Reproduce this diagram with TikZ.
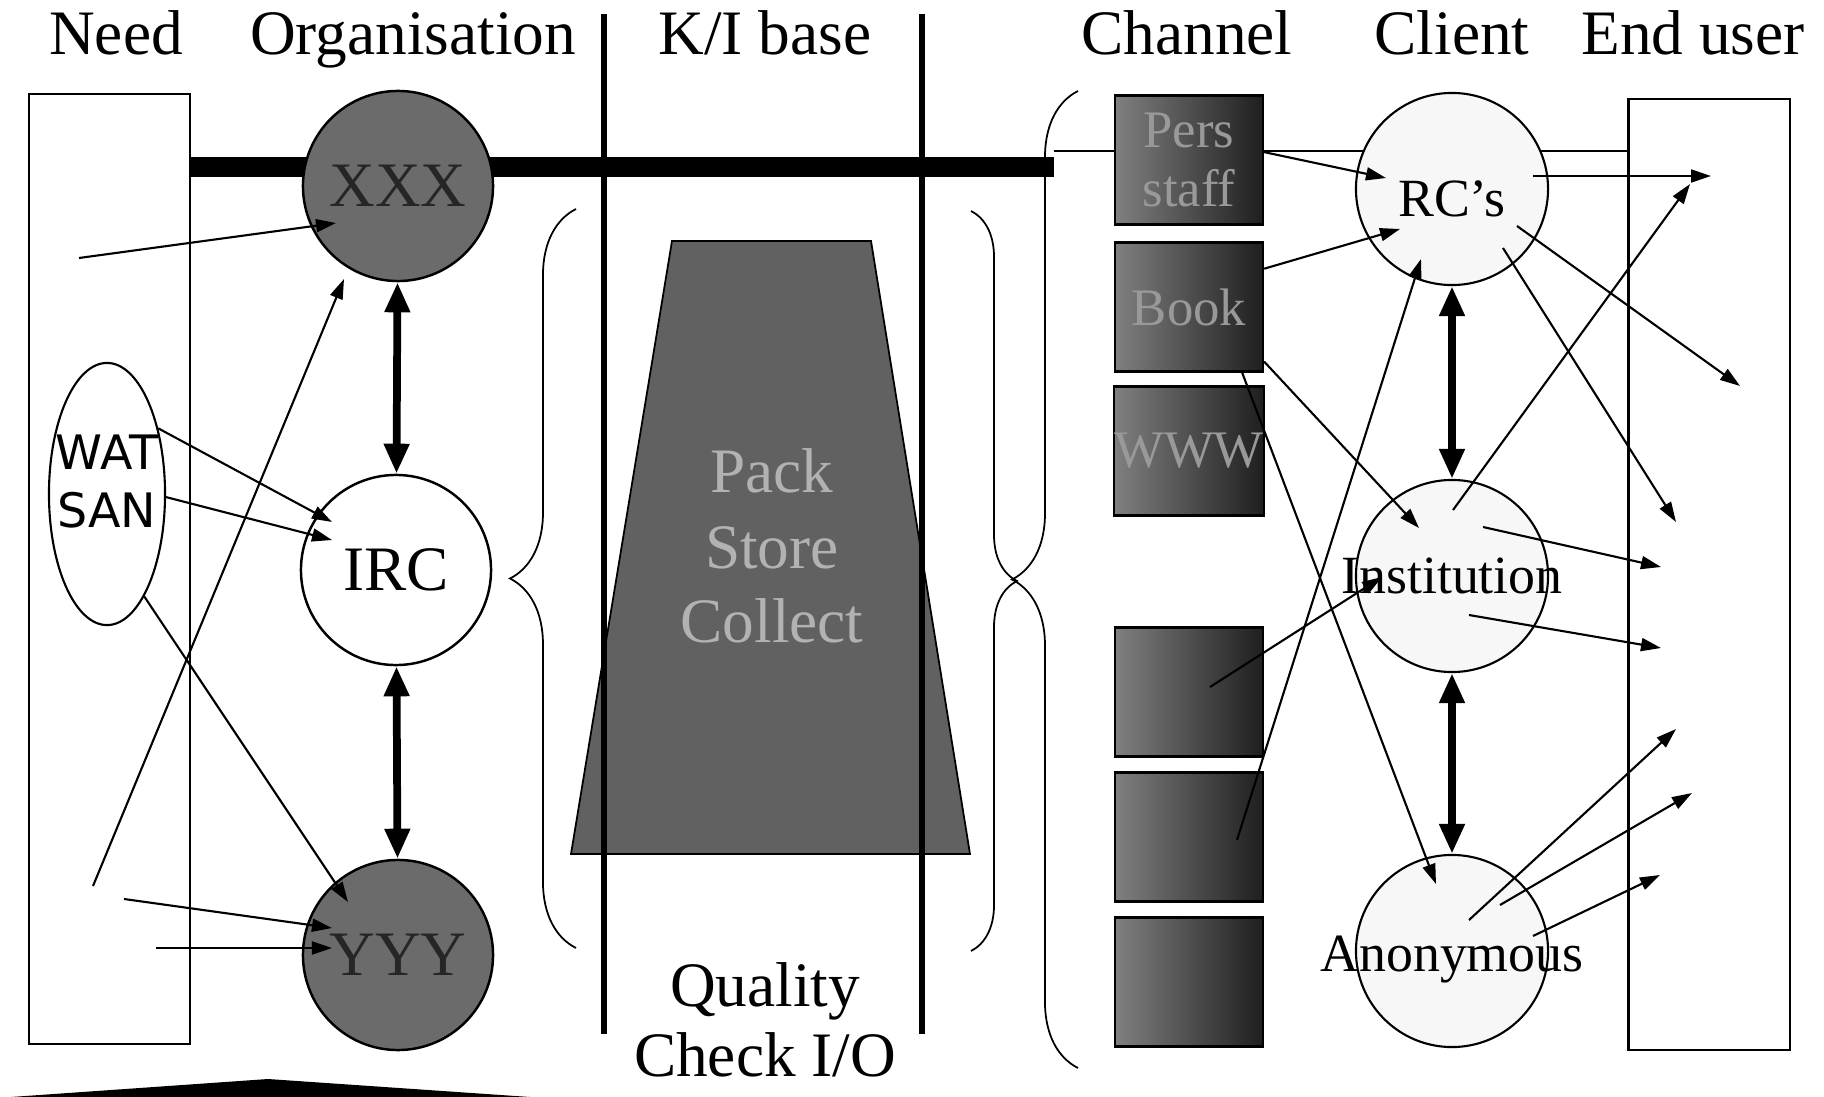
\documentclass[tikz,border=0pt]{standalone}
\usepackage{fontspec}
\setmainfont{Liberation Serif}
\newfontfamily\watfont{DejaVu Sans}
\usetikzlibrary{arrows.meta,shapes.geometric,decorations.pathreplacing}

\begin{document}
\begin{tikzpicture}[x=0.01cm,y=-0.01cm, % 1 unité = 1 pixel, y vers le bas
  font=\fontsize{18}{21}\selectfont,
  colonne/.style={draw,line width=0.6pt,minimum width=1.61cm,minimum height=9.5cm,inner sep=0pt},
  orgfonce/.style={circle,draw,line width=0.7pt,fill=black!58,text=black!85,minimum size=1.9cm,inner sep=0pt},
  orgclair/.style={circle,draw,line width=0.7pt,fill=white,minimum size=1.9cm,inner sep=0pt},
  client/.style={circle,draw,line width=0.6pt,fill=black!3,minimum size=1.92cm,inner sep=0pt},
  etiq/.style={font=\fontsize{15.3}{18}\selectfont},
  canal/.style={draw,line width=0.6pt,left color=black!50,right color=black!88,minimum width=1.48cm,
    minimum height=1.29cm,inner sep=0pt,text=black!40,align=center,font=\fontsize{15}{17}\selectfont},
  kitxt/.style={text=black!30},
  fl/.style={-{Triangle[length=0.2cm,width=0.13cm]},line width=0.6pt},
  dfl/.style={{Triangle[length=0.3cm,width=0.24cm]}-{Triangle[length=0.3cm,width=0.24cm]},line width=2.2pt},
  sep/.style={line width=1.9pt},
  acc/.style={decorate,decoration={brace,amplitude=#1},line width=0.5pt}]

\useasboundingbox (0,0) rectangle (1824,1097);

% --------- EN-TÊTES ----------
\foreach \nom/\xx/\txt in {hneed/116/Need, horg/413/Organisation, hki/765/{K/I base},
  hcanal/1187/Channel, hclient/1452/Client, huser/1693/End user}
  \node[anchor=base] (\nom) at (\xx,55) {\txt};

% Colonnes Need / End user
\node[colonne] (need) at (109.5,569) {};
\node[colonne,minimum height=9.51cm] (user) at (1709,574.5) {};

% Barre épaisse + trait fin (derrière les noeuds)
\coordinate (barA) at (190,167);
\coordinate (barB) at (1054,167);
\coordinate (fil) at (1054,151);
\draw[line width=0.2cm] (barA) -- (barB);
\draw[line width=0.6pt] (fil) -- (user.west |- fil);

% --------- ORGANISATION ----------
\node[orgfonce] (xxx) at (398,186) {XXX};
\node[orgclair] (irc) at (396,570) {IRC};
\node[orgfonce] (yyy) at (398,955) {YYY};
\draw[dfl] (xxx) -- (irc);
\draw[dfl] (irc) -- (yyy);

% WAT SAN
\node[draw,ellipse,line width=0.6pt,fill=white,minimum width=1.16cm,minimum height=2.62cm,inner sep=0pt]
  (watsan) at (107,494) {};
\node[align=center,inner sep=0pt,font=\watfont\fontsize{13.5}{16.5}\selectfont] (watlbl) at (107,482) {WAT\\SAN};

% --------- K/I BASE ----------
\draw[fill=black!62,line width=0.5pt] (672,241) -- (871,241) -- (970,854) -- (571,854) -- cycle;
\foreach \mot/\yy in {Pack/492,Store/568,Collect/642}
  \node[kitxt,anchor=base] (ki\mot) at (772,\yy) {\mot};
\node[anchor=base] (qual) at (765,1006) {Quality};
\node[anchor=base] (check) at (765,1076) {Check I/O};

% Séparateurs verticaux
\draw[sep] (604,14) -- (604,1034);
\draw[sep] (922,14) -- (922,1034);

% Accolades
\draw[acc=0.66cm] (576,948) -- (576,209);
\draw[acc=0.46cm] (971,211) -- (971,951);
\draw[acc=0.66cm] (1078,1068) -- (1078,91);

% --------- CHANNEL ----------
\foreach \i/\yy/\txt in {1/160/{Pers\\staff},2/307/Book,3/451/WWW,4/692/,5/837/,6/982/}
  \node[canal] (ch\i) at (1189,\yy) {\txt};

% --------- CLIENT ----------
\node[client] (rcs) at (1452,189) {};
\node[client] (inst) at (1452,576) {};
\node[client] (anon) at (1452,951) {};
\node[etiq] (lrcs) at (1452,199) {RC's};
\node[etiq] (linst) at (1452,576) {Institution};
\node[etiq] (lanon) at (1452,960) {Anonymous};
\draw[dfl] (rcs) -- (inst);
\draw[dfl] (inst) -- (anon);

% Bas gauche
\fill (11,1097) -- (268,1079) -- (530,1097) -- cycle;

% --------- FLÈCHES ----------
\foreach \nom/\xx/\yy in {n1/79/258, x1/336/223, n2/93/886, x2/344/279, n3/124/899, y1/332/928,
  n4/156/948, y2/332/948, i1/332/522, i2/332/540, y3/348/902,
  r1/1386/178, r2/1400/229, i3/1419/528, a1/1436/884, c5/1237/840, r3/1421/259, c4/1210/687, i4/1382/577,
  rs1/1533/176, rs2/1517/226, rs3/1503/248, is1/1453/510, is2/1483/527, is3/1469/615,
  an1/1469/920, an2/1500/905, an3/1533/936,
  e1/1711/176, e2/1740/386, e3/1676/522, e4/1690/184, e5/1661/567, e6/1661/648,
  e7/1676/729, e8/1692/793, e9/1660/875}
  \coordinate (\nom) at (\xx,\yy);

% Need / WAT SAN -> Organisation
\draw[fl] (n1) -- (x1);
\draw[fl] (n2) -- (x2);
\draw[fl] (watsan.52) -- (i1);
\draw[fl] (watsan.-3) -- (i2);
\draw[fl] (watsan.-70) -- (y3);
\draw[fl] (n3) -- (y1);
\draw[fl] (n4) -- (y2);

% Channel -> Client
\draw[fl] (ch1.6) -- (r1);
\draw[fl] (ch2.27) -- (r2);
\draw[fl] (ch2.-36) -- (i3);
\draw[fl] (ch2.-51) -- (a1);
\draw[fl] (c5) -- (r3);
\draw[fl] (c4) -- (i4);

% Client -> End user
\foreach \a/\b in {rs1/e1,rs2/e2,rs3/e3,is1/e4,is2/e5,is3/e6,an1/e7,an2/e8,an3/e9}
  \draw[fl] (\a) -- (\b);

\end{tikzpicture}
\end{document}
